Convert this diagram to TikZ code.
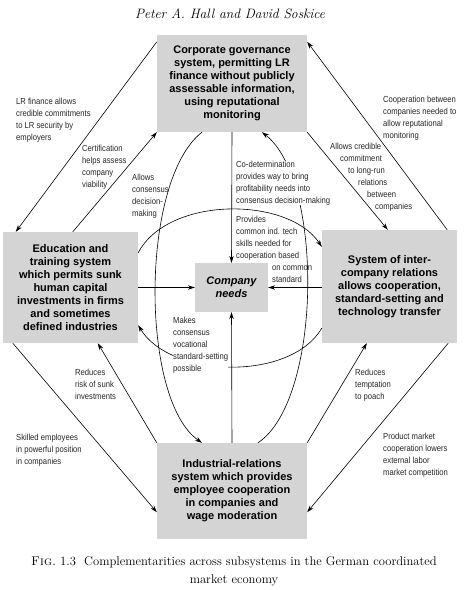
\documentclass[tikz,border=0pt]{standalone}
\usepackage{fontspec}
\newfontfamily\boxfont{Liberation Sans}
\newfontfamily\labelfont[FakeStretch=0.87]{Liberation Sans}
\usetikzlibrary{arrows.meta,calc}
\definecolor{boxgray}{RGB}{212,212,212}
\tikzset{
  sysbox/.style={fill=boxgray, inner sep=2pt, align=center, text=black,
    font=\boxfont\bfseries\fontsize{11}{13}\selectfont},
  lbl/.style={align=left, anchor=north west, inner sep=0pt, text=black!85,
    font=\labelfont\fontsize{8.8}{12}\selectfont},
  cover/.style={fill=white},
  conn/.style={line width=0.6pt, -{Stealth[length=7pt,width=4.5pt]}},
}
\begin{document}
\begin{tikzpicture}[x=1pt,y=-1pt]
\useasboundingbox (0,0) rectangle (464,590);
% title
\node[font=\itshape\fontsize{13.6}{16}\selectfont] (title) at (230,14) {Peter A. Hall and David Soskice};
% boxes
\node[sysbox, minimum width=150pt, minimum height=97pt] (cg) at (232,83.5)
  {Corporate governance\\system, permitting LR\\finance without publicly\\assessable information,\\using reputational\\monitoring};
\node[sysbox, minimum width=135pt, minimum height=111pt] (ed) at (70.5,287.5)
  {Education and\\training system\\which permits sunk\\human capital\\investments in firms\\and sometimes\\defined industries};
\node[sysbox, minimum width=135pt, minimum height=113pt] (ic) at (389.5,286.5)
  {System of inter-\\company relations\\allows cooperation,\\standard-setting and\\technology transfer};
\node[sysbox, minimum width=73pt, minimum height=49pt,
  font=\boxfont\bfseries\itshape\fontsize{11}{13}\selectfont] (cn) at (231.5,287.5) {Company\\needs};
\node[sysbox, minimum width=150pt, minimum height=96pt] (ir) at (232,491)
  {Industrial-relations\\system which provides\\employee cooperation\\in companies and\\wage moderation};
% connectors
\draw[conn] ([yshift=-7pt]cg.north west) -- ([xshift=13pt]ed.north west);
\draw[conn] ([xshift=70pt]ed.north west) -- (cg.south west);
\draw[conn] ([xshift=-30pt]cg.south) .. controls (140,180) and (140,400) .. ([xshift=-30pt]ir.north);
\draw[conn] ([xshift=26pt]ir.north) .. controls (322,400) and (324,180) .. ([xshift=30pt]cg.south);
\draw[conn] (cg.south) -- (cn.north);
\draw[conn] (ir.north) -- (cn.south);
\draw[conn] (ed.east) -- (cn.west);
\draw[conn] (cn.east -| ic.west) -- (cn.east);
\draw[conn] ([yshift=-21pt]ed.north east) .. controls (168,196) and (288,196) .. ([yshift=-17pt]ic.north west);
\draw[conn] ([yshift=15pt]ic.south west) .. controls (290,382) and (170,378) .. ([yshift=18pt]ed.south east);
\draw[conn] ([xshift=-10pt]ic.north east) -- ([yshift=-7pt]cg.north east);
\draw[conn] (cg.south east) -- ([xshift=66pt]ic.north west);
\draw[conn] ([xshift=10pt]ed.south west) -- ([yshift=27pt]ir.south west);
\draw[conn] (ir.north west) -- ([xshift=95pt]ed.south west);
\draw[conn] (ir.north east) -- ([xshift=45pt]ic.south west);
\draw[conn] ([xshift=-9pt]ic.south east) -- ([yshift=27pt]ir.south east);
% labels
\node[lbl] (l1) at (16,98) {LR finance allows\\credible commitments\\to LR security by\\employers};
\node[lbl] (l2) at (82,145) {Certification\\helps assess\\company\\viability};
\node[lbl] (l3) at (132,174) {Allows\\consensus\\decision-\\making};
\node[lbl, cover] (l4) at (236,161) {Co-determination\\provides way to bring\\profitability needs into\\consensus decision-making};
\node[lbl] (l5) at (236,216) {Provides\\common ind. tech\\skills needed for\\cooperation based\\\hspace*{36pt}on common\\\hspace*{36pt}standard};
\node[lbl] (l6) at (330,143) {Allows credible\\\hspace*{10pt}commitment\\\hspace*{18pt}to long-run\\\hspace*{28pt}relations\\\hspace*{37pt}between\\\hspace*{45pt}companies};
\node[lbl] (l7) at (383,96) {Cooperation between\\companies needed to\\allow reputational\\monitoring};
\node[lbl, cover] (l8) at (173,317) {Makes\\consensus\\vocational\\standard-setting\\possible};
\node[lbl] (l9) at (75,369) {Reduces\\risk of sunk\\investments};
\node[lbl] (l10) at (16,434) {Skilled employees\\in powerful position\\in companies};
\node[lbl] (l11) at (355,369) {Reduces\\temptation\\to poach};
\node[lbl] (l12) at (383,433) {Product market\\cooperation lowers\\external labor\\market competition};
% caption
\node[align=center, font=\fontsize{12.6}{18}\selectfont] (cap) at (234,571)
  {\textsc{Fig.}\ 1.3\ \ Complementarities across subsystems in the German coordinated\\market economy};
\end{tikzpicture}
\end{document}
